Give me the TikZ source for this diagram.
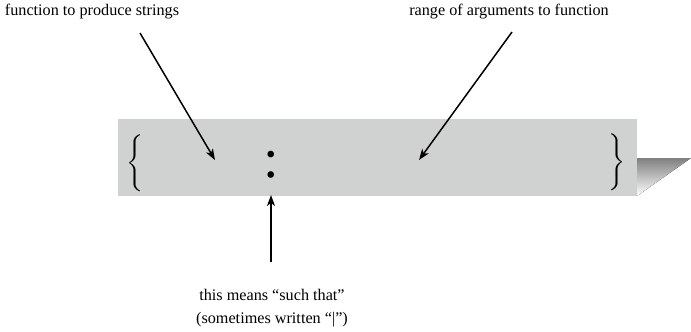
\documentclass[tikz,border=0pt]{standalone}
\usepackage{fontspec}
\usepackage{graphicx}
\setmainfont{Liberation Serif}
\usetikzlibrary{arrows.meta,positioning}
\definecolor{barfill}{HTML}{D0D1D1}
\definecolor{shade}{HTML}{999999}
\tikzset{
  label/.style={font=\fontsize{16.2}{23}\selectfont,inner sep=0pt,align=center},
  pointer/.style={-{Stealth[length=11pt,width=8pt,inset=3pt]},line width=1.5pt},
  brace/.style={inner sep=0pt}
}
\begin{document}
\begin{tikzpicture}[x=1pt,y=-1pt]
    \useasboundingbox (0,0) rectangle (691,332);
    % shadow and bar
    \fill[shade] (637,158) -- (691,158) -- (637,196) -- cycle;
    \node[fill=barfill,minimum width=519pt,minimum height=77pt,inner sep=0pt] (bar) at (377.5,157.5) {};

    \node[brace] (lbrace) at (135,163) {\resizebox*{17pt}{57pt}{$\Bigg\{$}};
    \node[brace] (rbrace) at (617,162) {\resizebox*{17pt}{57pt}{$\Bigg\}$}};
    \node[font=\fontsize{56}{56}\selectfont,inner sep=0pt] (colon) at (271,165) {:};

    \node[label] (fn) at (92,12) {function to produce strings};
    \node[label] (range) at (509,12) {range of arguments to function};
    \node[label] (such) at (272,308) {this means “such that”\\(sometimes written “|”)};

    \coordinate (fntail) at (140,33);
    \coordinate (fnhead) at (215,160);
    \coordinate (rangetail) at (512,32);
    \coordinate (rangehead) at (419,160);
    \coordinate (suchtail) at (271,262);
    \coordinate (suchhead) at (271,195);

    \draw[pointer] (fntail) -- (fnhead);
    \draw[pointer] (rangetail) -- (rangehead);
    \draw[pointer] (suchtail) -- (suchhead);
\end{tikzpicture}
\end{document}
